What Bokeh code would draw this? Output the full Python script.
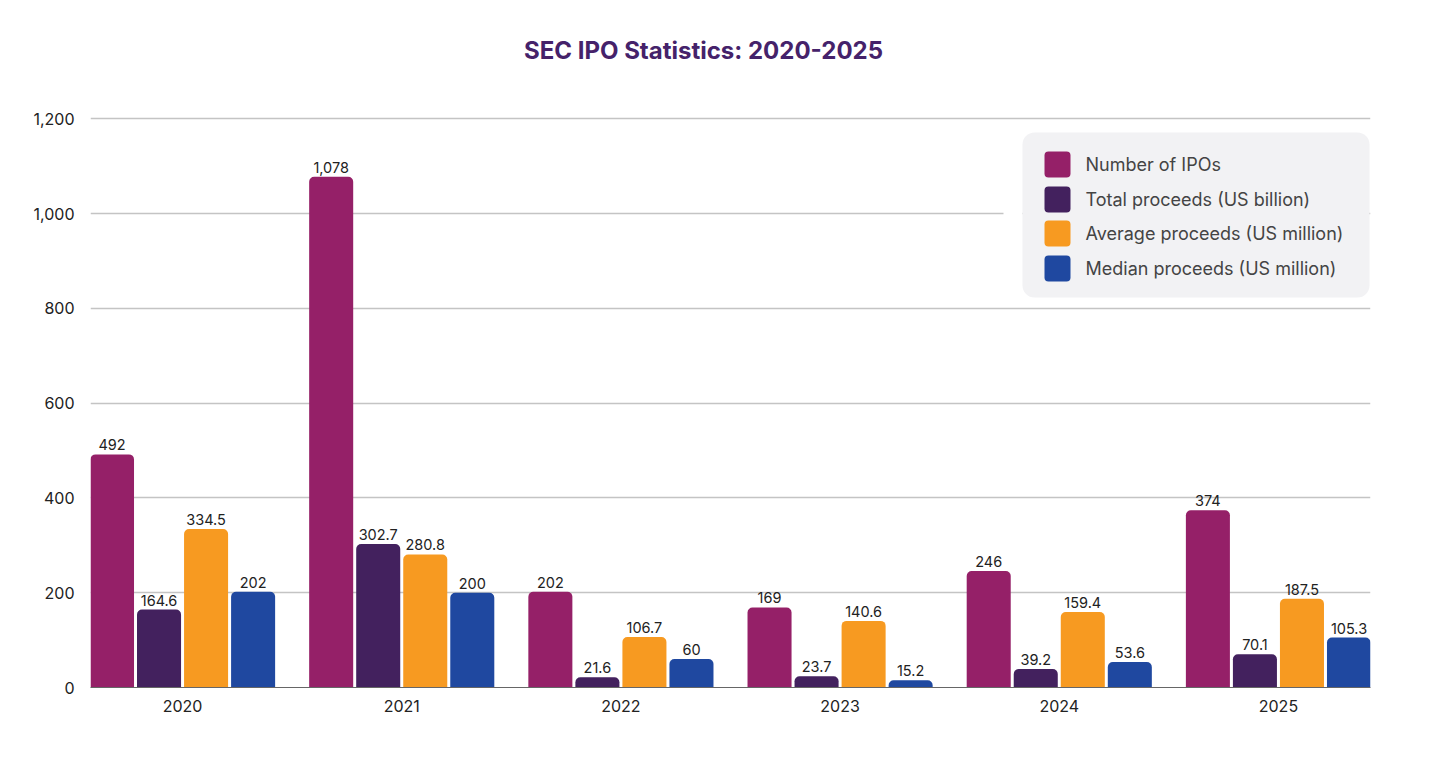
from bokeh.plotting import figure
from bokeh.models import (ColumnDataSource, Range1d, FixedTicker, NumeralTickFormatter,
                          LabelSet, Label, BoxAnnotation, VBar)
from bokeh.core.properties import value
from bokeh.embed import file_html
from bokeh.resources import INLINE

years = ["2020", "2021", "2022", "2023", "2024", "2025"]
series_names = ["Number of IPOs", "Total proceeds (US billion)",
                "Average proceeds (US million)", "Median proceeds (US million)"]
num_ipos = [492, 1078, 202, 169, 246, 374]
total_proceeds = [164.6, 302.7, 21.6, 23.7, 39.2, 70.1]
avg_proceeds = [334.5, 280.8, 106.7, 140.6, 159.4, 187.5]
median_proceeds = [202, 200, 60, 15.2, 53.6, 105.3]
colors = ["#952068", "#43215e", "#f79a21", "#1f48a0"]
y_ticks = [0, 200, 400, 600, 800, 1000, 1200]

FONT = "Inter"

# frame spans the full height above the x axis so the title can sit inside it
p = figure(width=1429, height=781, output_backend="svg", toolbar_location=None,
           x_range=Range1d(-0.42, 5.42), y_range=Range1d(0, 1450),
           min_border_left=90, min_border_right=59, min_border_top=0,
           min_border_bottom=94)
p.outline_line_color = None
p.background_fill_color = "white"
p.border_fill_color = "white"

step = 0.2146
bw = 0.2009
offsets = [-1.5 * step, -0.5 * step, 0.5 * step, 1.5 * step]
all_series = [num_ipos, total_proceeds, avg_proceeds, median_proceeds]

has_radius = "border_radius" in VBar.properties()

for k, (vals, col, off) in enumerate(zip(all_series, colors, offsets)):
    xs = [i + off for i in range(len(years))]
    labels = [f"{v:,}" if isinstance(v, int) else f"{v:,.1f}" for v in vals]
    src = ColumnDataSource(dict(x=xs, top=vals, lab=labels))
    kw = dict(x="x", top="top", bottom=0, width=bw, source=src,
              fill_color=col, line_color=None)
    if has_radius:
        kw["border_radius"] = (5, 5, 0, 0)
    p.vbar(**kw)
    ls = LabelSet(x="x", y="top", text="lab", source=src, y_offset=4,
                  text_align="center", text_baseline="bottom",
                  text_font=value(FONT), text_font_size=value("14.5px"),
                  text_color=value("#222222"))
    p.add_layout(ls)

# axes
p.xaxis.ticker = FixedTicker(ticks=list(range(len(years))))
p.xaxis.major_label_overrides = {i: y for i, y in enumerate(years)}
p.xaxis.major_label_text_font = FONT
p.xaxis.major_label_text_font_size = "16px"
p.xaxis.major_label_text_color = "#222222"
p.xaxis.major_label_standoff = 6
p.xaxis.axis_line_color = "#666666"
p.xaxis.axis_line_width = 1
p.xaxis.major_tick_line_color = None
p.xaxis.minor_tick_line_color = None

p.yaxis.ticker = FixedTicker(ticks=y_ticks)
p.yaxis.formatter = NumeralTickFormatter(format="0,0")
p.yaxis.major_label_text_font = FONT
p.yaxis.major_label_text_font_size = "16px"
p.yaxis.major_label_text_color = "#222222"
p.yaxis.major_label_standoff = 10
p.yaxis.axis_line_color = None
p.yaxis.major_tick_line_color = None
p.yaxis.minor_tick_line_color = None

p.xgrid.grid_line_color = None
p.ygrid.grid_line_color = "#c4c4c4"
p.ygrid.grid_line_width = 1.3

# legend (drawn in screen units relative to the plot frame)
box_radius_ok = "border_radius" in BoxAnnotation.properties()

def sbox(l, r, b, t, color, radius):
    kw = dict(left=l, right=r, bottom=b, top=t,
              left_units="screen", right_units="screen",
              bottom_units="screen", top_units="screen",
              fill_color=color, fill_alpha=1.0, line_color=None)
    if box_radius_ok and radius:
        kw["border_radius"] = radius
    return BoxAnnotation(**kw)

p.add_layout(sbox(913, 932, 471, 477, "white", 0))
p.add_layout(sbox(932, 1279, 390, 555, "#f2f2f4", 12))
row_y = [523, 488, 454, 419]
for name, col, ry in zip(series_names, colors, row_y):
    p.add_layout(sbox(954, 980, ry - 13, ry + 13, col, 4))
    p.add_layout(Label(x=995, y=ry, x_units="screen", y_units="screen",
                       text=name, text_align="left", text_baseline="middle",
                       text_font=FONT, text_font_size="18px",
                       text_color="#444444"))

# title
title = Label(x=613, y=637, x_units="screen", y_units="screen",
              text="SEC IPO Statistics: 2020-2025", text_align="center",
              text_baseline="middle", text_font=FONT, text_font_size="24px",
              text_font_style="bold", text_color="#45226a")
p.add_layout(title)

open("out.html", "w").write(file_html(p, INLINE))
